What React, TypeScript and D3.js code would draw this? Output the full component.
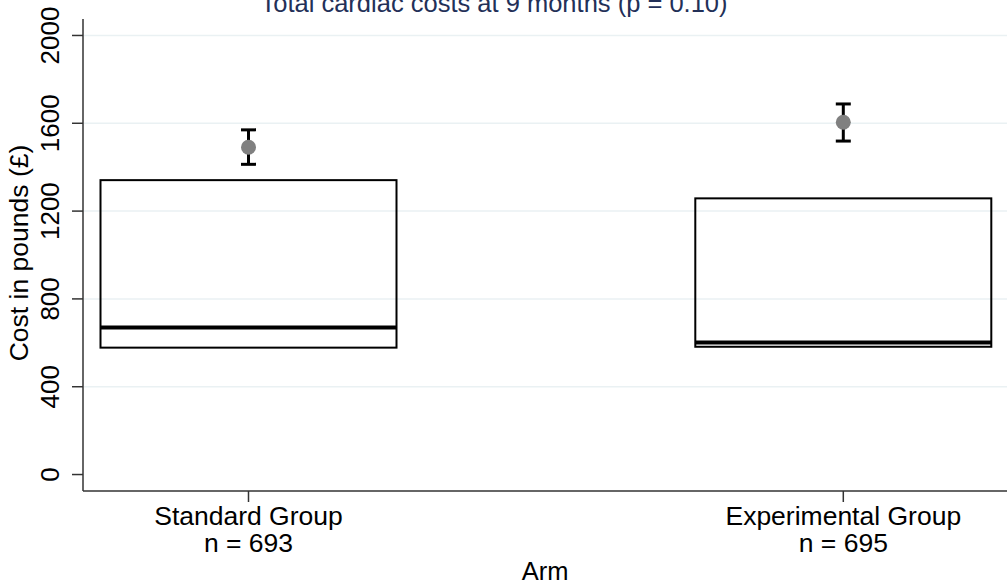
import React from "react";
import * as d3 from "d3";

const categories = ["Standard Group", "Experimental Group"];
const nLabels = ["n = 693", "n = 695"];
const q1 = [578, 582];
const median = [670, 601];
const q3 = [1341, 1258];
const mean = [1491, 1605];
const ciLow = [1413, 1519];
const ciHigh = [1570, 1688];
const yTicks = [0, 400, 800, 1200, 1600, 2000];
const gridTicks = [400, 800, 1200, 1600, 2000];

const W = 1007;
const H = 583;
const FONT = "'Liberation Sans', Arial, Helvetica, sans-serif";

export default function App() {
  const y = d3.scaleLinear().domain([-75, 2075]).range([491, 19]);
  const x = d3.scalePoint<string>().domain(categories).range([248.5, 843.3]);
  const axisLeft = 83;
  const axisBottom = 491;
  const boxHalf = 148;
  const capHalf = 7.5;

  return (
    <svg
      width={W}
      height={H}
      style={{ position: "absolute", left: 0, top: 0, background: "#fff" }}
      fontFamily={FONT}
    >
      <rect x={0} y={0} width={W} height={H} fill="#fff" />
      {/* gridlines */}
      {gridTicks.map((t) => (
        <line
          key={"g" + t}
          x1={axisLeft + 1}
          x2={W}
          y1={y(t)}
          y2={y(t)}
          stroke="#eaf1f3"
          strokeWidth={1.5}
        />
      ))}
      {/* title */}
      <text x={494} y={11.5} textAnchor="middle" fontSize={25.5} fill="#233058">
        Total cardiac costs at 9 months (p = 0.10)
      </text>
      {/* y axis */}
      <line x1={axisLeft} x2={axisLeft} y1={19} y2={axisBottom} stroke="#333" strokeWidth={1.5} />
      {yTicks.map((t) => (
        <g key={"yt" + t}>
          <line x1={axisLeft - 11} x2={axisLeft} y1={y(t)} y2={y(t)} stroke="#333" strokeWidth={1.5} />
          <text
            transform={`translate(${58.5},${y(t)}) rotate(-90)`}
            textAnchor="middle"
            fontSize={26}
            fill="#000"
          >
            {t}
          </text>
        </g>
      ))}
      <text
        transform={`translate(${27.5},${253}) rotate(-90)`}
        textAnchor="middle"
        fontSize={26.5}
        fill="#000"
      >
        Cost in pounds (£)
      </text>
      {/* x axis */}
      <line x1={axisLeft} x2={W} y1={axisBottom} y2={axisBottom} stroke="#333" strokeWidth={1.5} />
      {categories.map((c, i) => (
        <g key={"xt" + c}>
          <line x1={x(c)} x2={x(c)} y1={axisBottom} y2={axisBottom + 11} stroke="#333" strokeWidth={1.5} />
          <text x={x(c)} y={525} textAnchor="middle" fontSize={26.5} fill="#000">
            {c}
          </text>
          <text x={x(c)} y={551.5} textAnchor="middle" fontSize={26.5} fill="#000">
            {nLabels[i]}
          </text>
        </g>
      ))}
      <text x={545} y={580} textAnchor="middle" fontSize={25.5} fill="#000">
        Arm
      </text>
      {/* boxes */}
      {categories.map((c, i) => {
        const cx = x(c) as number;
        return (
          <g key={"box" + c}>
            <rect
              x={cx - boxHalf}
              y={y(q3[i])}
              width={boxHalf * 2}
              height={y(q1[i]) - y(q3[i])}
              fill="none"
              stroke="#000"
              strokeWidth={2}
            />
            <line
              x1={cx - boxHalf}
              x2={cx + boxHalf}
              y1={y(median[i])}
              y2={y(median[i])}
              stroke="#000"
              strokeWidth={4}
            />
            <line x1={cx} x2={cx} y1={y(ciLow[i])} y2={y(ciHigh[i])} stroke="#000" strokeWidth={3} />
            <line x1={cx - capHalf} x2={cx + capHalf} y1={y(ciLow[i])} y2={y(ciLow[i])} stroke="#000" strokeWidth={3} />
            <line x1={cx - capHalf} x2={cx + capHalf} y1={y(ciHigh[i])} y2={y(ciHigh[i])} stroke="#000" strokeWidth={3} />
            <circle cx={cx} cy={y(mean[i])} r={7.5} fill="#808080" />
          </g>
        );
      })}
    </svg>
  );
}
